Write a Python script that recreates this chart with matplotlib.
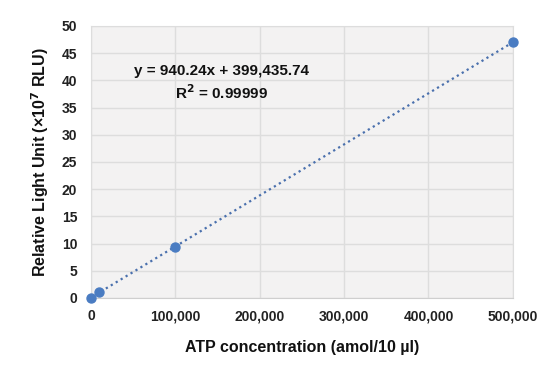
import numpy as np
import matplotlib
matplotlib.use("Agg")
import matplotlib.pyplot as plt
from matplotlib.ticker import FuncFormatter

# ATP standard curve (RLU in units of 1e7)
atp_amol = [0, 10000, 100000, 500000]
rlu_e7 = [0.05, 1.1, 9.4, 47.0]
x_ticks = [0, 100000, 200000, 300000, 400000, 500000]
y_ticks = [0, 5, 10, 15, 20, 25, 30, 35, 40, 45, 50]

plt.rcParams["font.family"] = ["Liberation Sans", "DejaVu Sans"]

fig = plt.figure(figsize=(5.55, 3.81), dpi=100)
ax = fig.add_axes([0.164, 0.218, 0.760, 0.714])
ax.set_facecolor("#f3f2f2")

# linear trendline across the data range
slope, icpt = np.polyfit(atp_amol, rlu_e7, 1)
xs = np.array([min(atp_amol), max(atp_amol)])
ax.plot(xs, slope * xs + icpt, linestyle=(0, (1, 1.6)), color="#4a70ad", lw=1.6, zorder=2)
ax.scatter(atp_amol, rlu_e7, s=42, color="#4a7cc2", zorder=3, clip_on=False)

ax.set_xlim(0, 500000)
ax.set_ylim(0, 50)
ax.set_xticks(x_ticks)
ax.set_yticks(y_ticks)
ax.xaxis.set_major_formatter(FuncFormatter(lambda v, p: f"{int(v):,}"))
ax.grid(True, color="#dddddd", lw=1)
ax.set_axisbelow(True)
for s in ax.spines.values():
    s.set_color("#dddddd")
ax.spines["bottom"].set_color("#cfcfcf")
ax.tick_params(axis="x", length=0, labelsize=10, colors="#222222", pad=8)
ax.tick_params(axis="y", length=0, labelsize=10, colors="#222222", pad=10)
for lbl in ax.get_xticklabels() + ax.get_yticklabels():
    lbl.set_fontweight("bold")

ax.set_xlabel("ATP concentration (amol/10 µl)", fontsize=11.5, fontweight="bold",
              color="#111111", labelpad=12)
ax.set_ylabel("Relative Light Unit (×10$^{\\mathbf{7}}$ RLU)", fontsize=11.5,
              fontweight="bold", color="#111111", labelpad=8)

ax.text(0.31, 0.835, "y = 940.24x + 399,435.74", transform=ax.transAxes,
        ha="center", va="center", fontsize=11, fontweight="bold", color="#111111")
ax.text(0.31, 0.755, "R$^{\\mathbf{2}}$ = 0.99999", transform=ax.transAxes,
        ha="center", va="center", fontsize=11, fontweight="bold", color="#111111")

fig.savefig("out.png", dpi=100)
